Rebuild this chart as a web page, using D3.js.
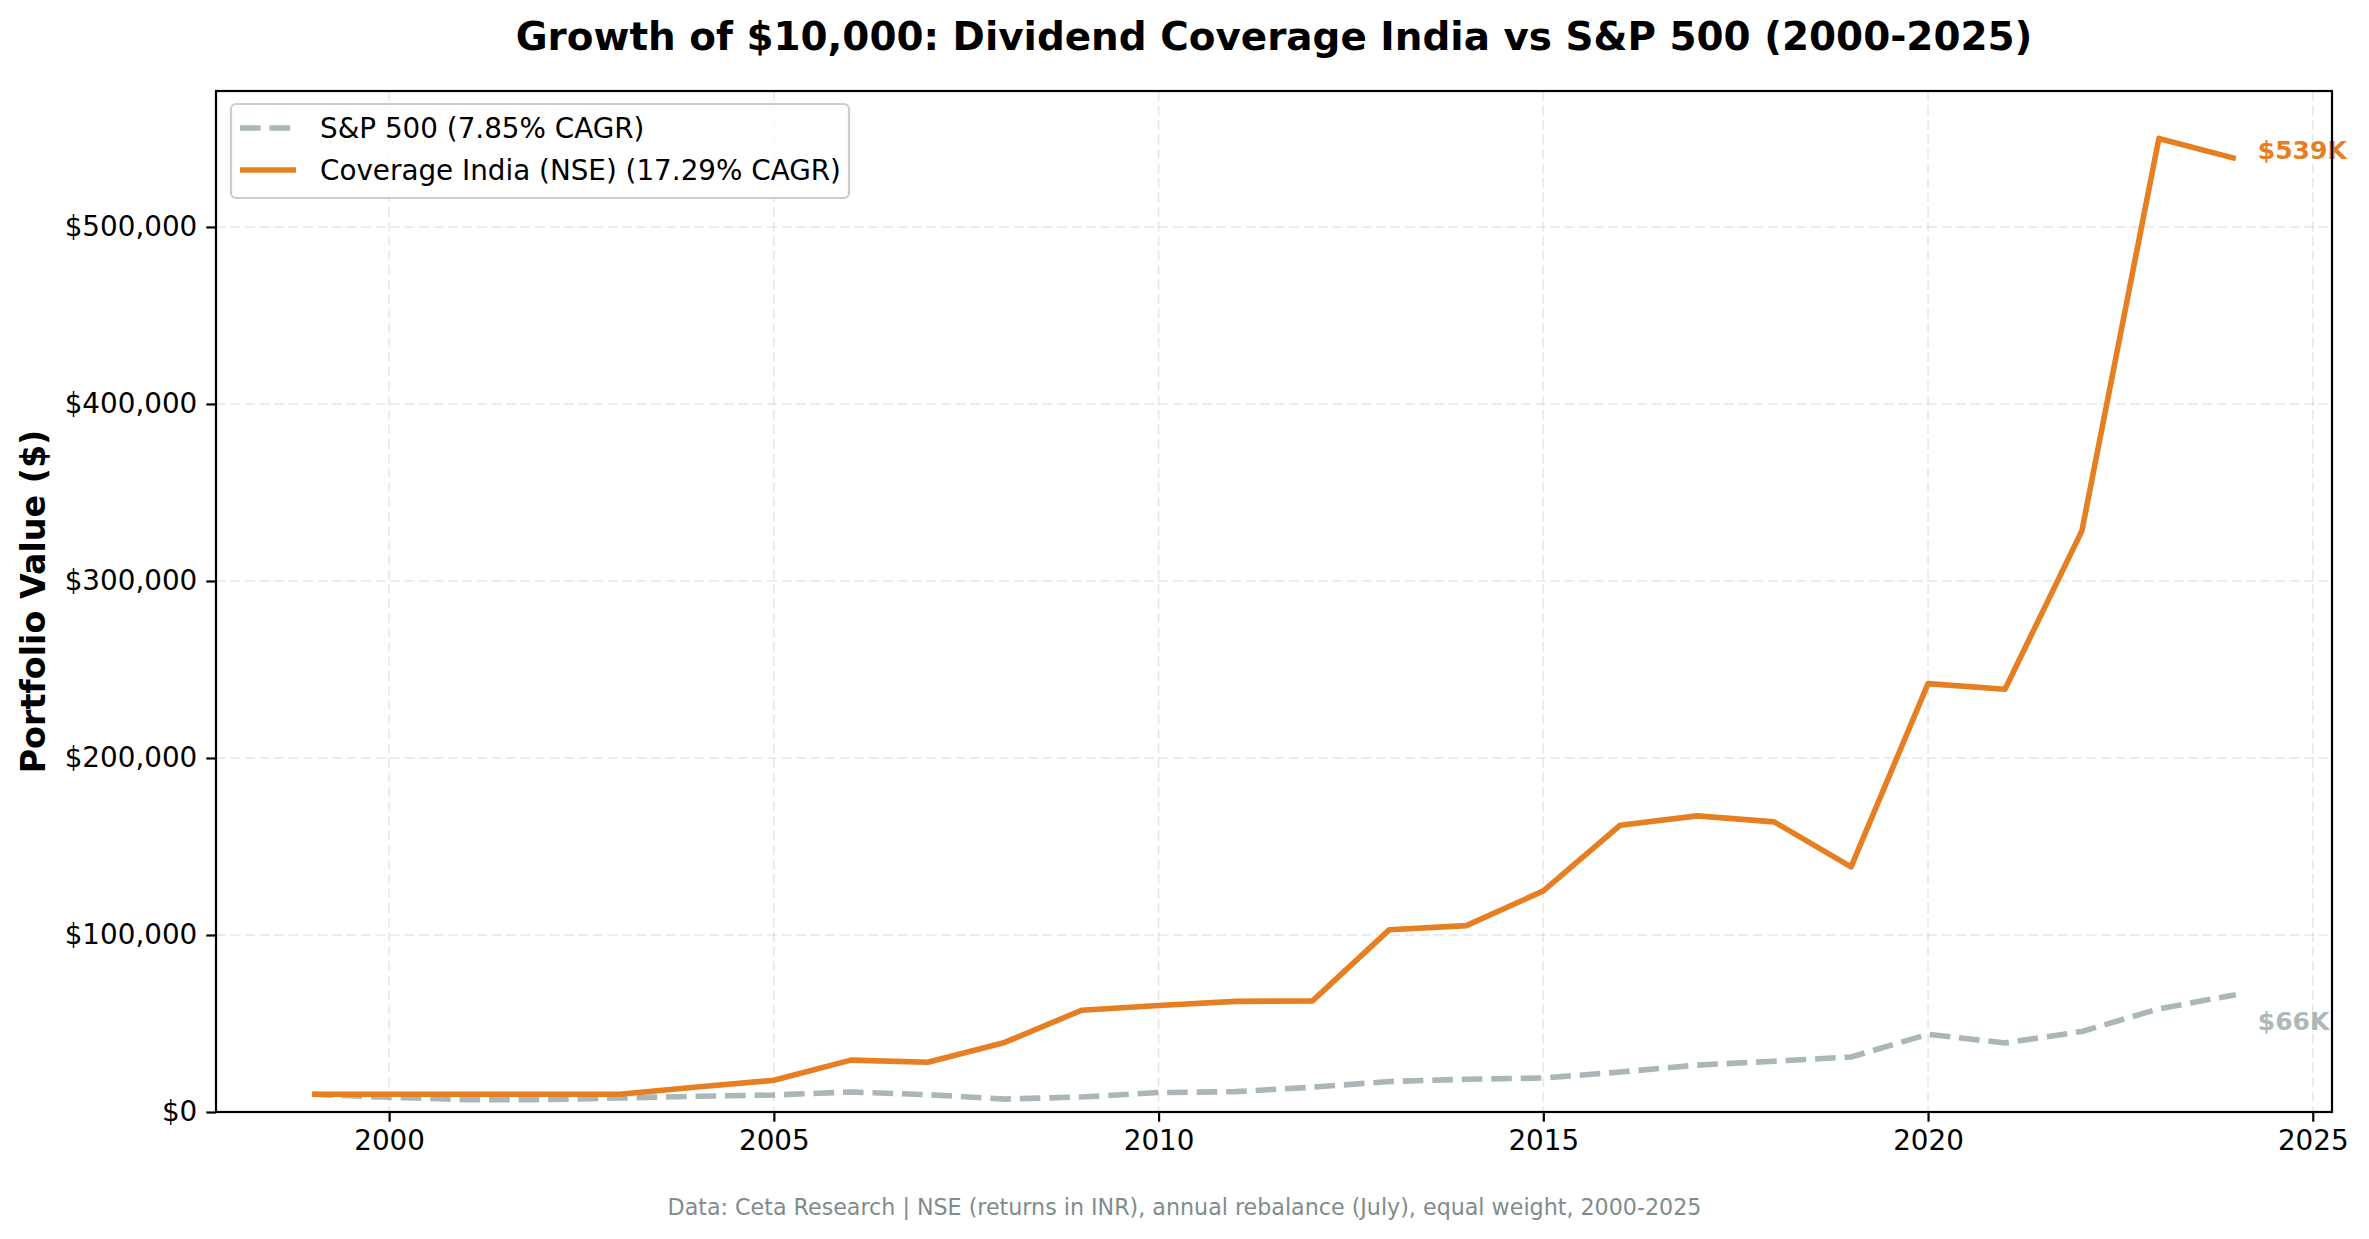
<!DOCTYPE html>
<html>
<head>
<meta charset="utf-8">
<script src="https://cdn.jsdelivr.net/npm/d3@7"></script>
<style>
    body { margin: 0; background: #fff; }
    text { font-family: "DejaVu Sans", sans-serif; }
</style>
</head>
<body>
<div id="chart"></div>
<script>
var years = [1999, 2000, 2001, 2002, 2003, 2004, 2005, 2006, 2007, 2008, 2009, 2010, 2011,
    2012, 2013, 2014, 2015, 2016, 2017, 2018, 2019, 2020, 2021, 2022, 2023, 2024];
var indiaValues = [10000, 10000, 10000, 10000, 10000, 14100, 17900, 29300, 28100, 39300, 57500, 60200, 62500,
    62800, 103000, 105300, 124900, 162000, 167300, 163900, 138500, 242000, 238800, 328400, 550000, 538600];
var spValues = [10000, 8300, 7000, 7000, 7900, 8900, 9600, 11300, 9800, 7300, 8500, 11000, 11500,
    14000, 17200, 18500, 19200, 22600, 26500, 28700, 31100, 43900, 39000, 45500, 58300, 66300];
var seriesNames = ["S&P 500 (7.85% CAGR)", "Coverage India (NSE) (17.29% CAGR)"];
var endLabels = ["$66K", "$539K"];
var xTicks = [2000, 2005, 2010, 2015, 2020, 2025];
var yTicks = [0, 100000, 200000, 300000, 400000, 500000];

(function () {
    var width = 2369, height = 1239;
    var left = 216, right = 2332, top = 91, bottom = 1112;
    var orange = "#e67e22", grey = "#95a5a6";

    var svg = d3.select("#chart")
        .append("svg")
        .attr("width", width)
        .attr("height", height)
        .style("background", "#fff");

    var x = d3.scaleLinear().domain([1997.75, 2025.25]).range([left, right]);
    var y = d3.scaleLinear().domain([0, 576800]).range([bottom, top]);

    // grid
    var grid = svg.append("g")
        .attr("stroke", "#b0b0b0")
        .attr("stroke-opacity", 0.3)
        .attr("stroke-width", 1.6)
        .attr("stroke-dasharray", "10,4.5");
    grid.selectAll(".gx")
        .data(xTicks)
        .join("line")
        .attr("x1", d => x(d)).attr("x2", d => x(d))
        .attr("y1", top).attr("y2", bottom);
    grid.selectAll(".gy")
        .data(yTicks)
        .join("line")
        .attr("y1", d => y(d)).attr("y2", d => y(d))
        .attr("x1", left).attr("x2", right);

    var line = d3.line()
        .x((d, i) => x(years[i]))
        .y(d => y(d));

    svg.append("path")
        .datum(spValues)
        .attr("fill", "none")
        .attr("stroke", grey)
        .attr("stroke-opacity", 0.8)
        .attr("stroke-width", 5.6)
        .attr("stroke-dasharray", "20.6,8.9")
        .attr("d", line);

    svg.append("path")
        .datum(indiaValues)
        .attr("fill", "none")
        .attr("stroke", orange)
        .attr("stroke-width", 5.6)
        .attr("stroke-linejoin", "round")
        .attr("d", line);

    // end labels
    var last = years.length - 1;
    svg.append("text")
        .attr("x", x(years[last]) + 22)
        .attr("y", y(indiaValues[last]) + 0)
        .attr("fill", orange)
        .attr("font-size", 25)
        .attr("font-weight", "bold")
        .text(endLabels[1]);
    svg.append("text")
        .attr("x", x(years[last]) + 22)
        .attr("y", y(spValues[last]) + 35)
        .attr("fill", grey)
        .attr("fill-opacity", 0.8)
        .attr("font-size", 25)
        .attr("font-weight", "bold")
        .text(endLabels[0]);

    // axes
    var xAxis = svg.append("g")
        .attr("transform", "translate(0," + bottom + ")")
        .call(d3.axisBottom(x).tickValues(xTicks).tickFormat(d3.format("d")).tickSize(9.7).tickPadding(9));
    var yAxis = svg.append("g")
        .attr("transform", "translate(" + left + ",0)")
        .call(d3.axisLeft(y).tickValues(yTicks).tickFormat(d => "$" + d3.format(",")(d)).tickSize(9.7).tickPadding(9));
    [xAxis, yAxis].forEach(function (a) {
        a.select(".domain").remove();
        a.selectAll("line").attr("stroke", "#000").attr("stroke-width", 2.2);
        a.selectAll("text").attr("font-size", 27.8).attr("fill", "#000")
            .attr("font-family", "DejaVu Sans");
    });

    svg.append("rect")
        .attr("x", left).attr("y", top)
        .attr("width", right - left).attr("height", bottom - top)
        .attr("fill", "none")
        .attr("stroke", "#000")
        .attr("stroke-width", 2.2);

    // legend
    var lg = svg.append("g");
    lg.append("rect")
        .attr("x", 231).attr("y", 104)
        .attr("width", 618).attr("height", 94)
        .attr("rx", 5)
        .attr("fill", "#fff")
        .attr("fill-opacity", 0.8)
        .attr("stroke", "#cccccc")
        .attr("stroke-width", 2.2);
    var items = [
        {name: seriesNames[0], color: grey, dash: "20.6,8.9", op: 0.8},
        {name: seriesNames[1], color: orange, dash: null, op: 1}
    ];
    items.forEach(function (it, i) {
        var cy = 128 + i * 42;
        lg.append("line")
            .attr("x1", 240).attr("x2", 296)
            .attr("y1", cy).attr("y2", cy)
            .attr("stroke", it.color)
            .attr("stroke-opacity", it.op)
            .attr("stroke-width", 5.6)
            .attr("stroke-dasharray", it.dash);
        lg.append("text")
            .attr("x", 320).attr("y", cy)
            .attr("dy", "0.35em")
            .attr("font-size", 27.8)
            .text(it.name);
    });

    // titles
    svg.append("text")
        .attr("x", (left + right) / 2)
        .attr("y", 50)
        .attr("text-anchor", "middle")
        .attr("font-size", 38.9)
        .attr("font-weight", "bold")
        .text("Growth of $10,000: Dividend Coverage India vs S&P 500 (2000-2025)");

    svg.append("text")
        .attr("transform", "translate(45," + (top + bottom) / 2 + ") rotate(-90)")
        .attr("text-anchor", "middle")
        .attr("font-size", 33.3)
        .attr("font-weight", "bold")
        .text("Portfolio Value ($)");

    svg.append("text")
        .attr("x", width / 2)
        .attr("y", 1215)
        .attr("text-anchor", "middle")
        .attr("font-size", 22.2)
        .attr("fill", "#7f8c8d")
        .text("Data: Ceta Research | NSE (returns in INR), annual rebalance (July), equal weight, 2000-2025");
})();
</script>
</body>
</html>
